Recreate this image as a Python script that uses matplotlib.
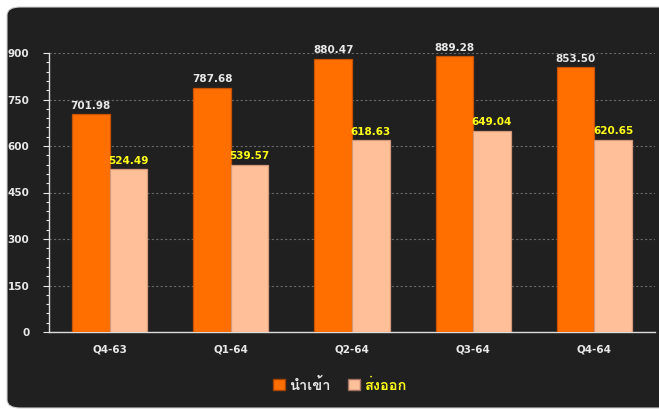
import matplotlib
matplotlib.use("Agg")
import matplotlib.pyplot as plt
import numpy as np
from matplotlib import font_manager, ft2font
from matplotlib.patches import FancyBboxPatch, Patch
from matplotlib.ticker import MultipleLocator

categories = ["Q4-63", "Q1-64", "Q2-64", "Q3-64", "Q4-64"]
imports = [701.98, 787.68, 880.47, 889.28, 853.50]
exports = [524.49, 539.57, 618.63, 649.04, 620.65]
series_names = ["นำเข้า", "ส่งออก"]

BG = "#202020"
TXT = "#e8e8e8"
YEL = "#ffff1a"
ORANGE = "#ff6f00"
LIGHT = "#ffbf98"


def thai_family():
    # pick an installed family that actually has Thai glyphs
    for f in font_manager.fontManager.ttflist:
        try:
            if 0x0E19 in ft2font.FT2Font(f.fname).get_charmap():
                return f.name
        except Exception:
            continue
    return None


thai = thai_family()
fams = ([thai] if thai else []) + ["DejaVu Sans"]
plt.rcParams["font.family"] = ["DejaVu Sans"]

fig = plt.figure(figsize=(6.59, 4.09), dpi=100)
fig.patch.set_facecolor("white")
panel = FancyBboxPatch((7 / 659, 1 / 409), 700 / 659, 401 / 409,
                       boxstyle="round,pad=0,rounding_size=0.02",
                       transform=fig.transFigure, facecolor=BG,
                       edgecolor="#cfcfcf", lw=0.8, zorder=-5)
fig.patches.append(panel)

ax = fig.add_axes([49 / 659, 77 / 409, 606 / 659, 279 / 409])
ax.set_zorder(2)
ax.set_facecolor("none")
x = np.arange(len(categories))
w = 0.31
ax.bar(x - w / 2, imports, w, color=ORANGE, edgecolor="#c95200", lw=0.9, zorder=3)
ax.bar(x + w / 2, exports, w, color=LIGHT, edgecolor="#d4987a", lw=0.9, zorder=3)

for i in range(len(categories)):
    ax.text(x[i] - w / 2, imports[i] + 12, f"{imports[i]:.2f}", ha="center", va="bottom",
            color=TXT, fontsize=7.5, fontweight="bold", zorder=4)
    ax.text(x[i] + w / 2, exports[i] + 12, f"{exports[i]:.2f}", ha="center", va="bottom",
            color=YEL, fontsize=7.5, fontweight="bold", zorder=4)

ax.set_xlim(-0.5, len(categories) - 0.5)
ax.set_ylim(0, 900)
ax.yaxis.set_major_locator(MultipleLocator(150))
ax.yaxis.set_minor_locator(MultipleLocator(30))
ax.set_xticks(x)
ax.set_xticklabels(categories)
for lab in ax.get_xticklabels() + ax.get_yticklabels():
    lab.set_color(TXT)
    lab.set_fontweight("bold")
    lab.set_fontsize(7.5)
ax.tick_params(axis="x", length=0, pad=9)
ax.tick_params(axis="y", which="major", length=4, color=TXT, width=0.8, pad=10)
ax.tick_params(axis="y", which="minor", length=2, color=TXT, width=0.8)
for s in ["top", "right"]:
    ax.spines[s].set_visible(False)
for s in ["left", "bottom"]:
    ax.spines[s].set_color("#dcdcdc")
    ax.spines[s].set_linewidth(1.0)
ax.yaxis.grid(True, which="major", color="#6a6a6a", ls=(0, (2, 2)), lw=0.8, zorder=1)
ax.set_axisbelow(True)

handles = [Patch(facecolor=ORANGE, edgecolor="#a84300"),
           Patch(facecolor=LIGHT, edgecolor="#a07060")]
leg = fig.legend(handles, series_names, loc="center", bbox_to_anchor=(340 / 659, 24 / 409),
                 ncol=2, frameon=False, handlelength=0.8, handleheight=0.8,
                 handletextpad=0.3, columnspacing=1.2,
                 prop={"family": fams, "weight": "bold", "size": 10.5})
for t, c in zip(leg.get_texts(), [TXT, YEL]):
    t.set_color(c)

fig.savefig("out.png", dpi=100)
